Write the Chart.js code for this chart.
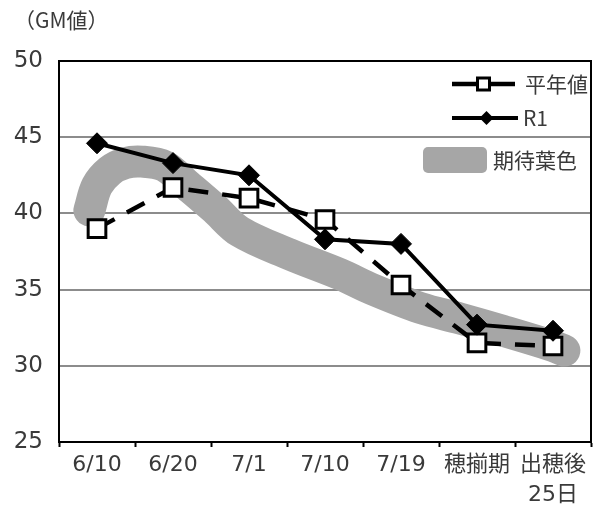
<!DOCTYPE html>
<html>
<head>
<meta charset="utf-8">
<script src="https://cdn.jsdelivr.net/npm/chart.js@4/dist/chart.umd.min.js"></script>
<style>
  html, body { margin: 0; padding: 0; background: #fff; }
  #wrap { width: 593px; height: 506px; }
</style>
</head>
<body>
<div id="wrap"><canvas id="gmChart" width="593" height="506"></canvas></div>
<script>
// GM値の推移（平年値・R1・期待葉色）
const categories = ["6/10", "6/20", "7/1", "7/10", "7/19", "穂揃期", ["出穂後", "25日"]];
const normalValues = [39.0, 41.7, 41.0, 39.6, 35.3, 31.5, 31.3];
const r1Values = [44.6, 43.3, 42.5, 38.3, 38.0, 32.7, 32.3];

// 期待葉色の帯（中心線）。x は項目番号（0 = 6/10）
const bandX = [-0.1, 0, 0.17, 0.37, 0.59, 0.89, 1.2, 1.55, 1.88, 2.54, 3.2, 3.63, 4.25, 4.78, 5.34, 6.0, 6.15];
const bandY = [40.2, 41.8, 42.8, 43.3, 43.4, 43.1, 41.8, 40.3, 38.8, 37.3, 36.0, 35.0, 33.8, 33.1, 32.3, 31.3, 31.0];

const yTicks = { min: 25, max: 50, step: 5 };

const numFont = '"DejaVu Sans", "Noto Sans CJK JP", sans-serif';
const jpFont = '"Noto Sans CJK JP", "DejaVu Sans", sans-serif';
const bandColor = "#a6a6a6";
const textColor = "#3a3a3a";

const bandPoints = bandX.map((x, i) => ({ x, y: bandY[i] }));

// 枠線・凡例・単位を描く
const decorPlugin = {
    id: "decor",
    afterDraw(chart) {
        const ctx = chart.ctx;
        const a = chart.chartArea;
        ctx.save();

        // plot frame
        ctx.strokeStyle = "#000";
        ctx.lineWidth = 2;
        ctx.strokeRect(a.left, a.top, a.right - a.left, a.bottom - a.top);

        // unit label
        ctx.fillStyle = textColor;
        ctx.font = "21px " + jpFont;
        ctx.textBaseline = "middle";
        ctx.textAlign = "left";
        ctx.fillText("（GM値）", 14, 20);

        // legend
        ctx.font = "21px " + jpFont;
        const lx0 = a.right - 139, lx1 = a.right - 76;
        const mx = (lx0 + lx1) / 2;

        // 平年値
        let y = a.top + 23;
        ctx.strokeStyle = "#000";
        ctx.lineWidth = 4.5;
        ctx.beginPath();
        ctx.moveTo(lx0, y); ctx.lineTo(mx - 7, y);
        ctx.moveTo(mx + 7, y); ctx.lineTo(lx1, y);
        ctx.stroke();
        ctx.lineWidth = 3;
        ctx.fillStyle = "#fff";
        ctx.fillRect(mx - 6, y - 6, 12, 12);
        ctx.strokeRect(mx - 6, y - 6, 12, 12);
        ctx.fillStyle = textColor;
        ctx.fillText("平年値", a.right - 66, y);

        // R1
        y = a.top + 57;
        ctx.lineWidth = 4;
        ctx.beginPath();
        ctx.moveTo(lx0, y); ctx.lineTo(lx1 + 3, y);
        ctx.stroke();
        ctx.fillStyle = "#000";
        ctx.beginPath();
        ctx.moveTo(mx + 3, y - 7); ctx.lineTo(mx + 10, y);
        ctx.lineTo(mx + 3, y + 7); ctx.lineTo(mx - 4, y);
        ctx.closePath();
        ctx.fill();
        ctx.fillStyle = textColor;
        ctx.fillText("R1", a.right - 68, y);

        // 期待葉色
        y = a.top + 99;
        ctx.fillStyle = bandColor;
        ctx.beginPath();
        ctx.roundRect(a.right - 168, y - 13, 64, 26, 5);
        ctx.fill();
        ctx.fillStyle = textColor;
        ctx.fillText("期待葉色", a.right - 98, y);

        ctx.restore();
    },
};

new Chart(document.getElementById("gmChart"), {
    type: "line",
    data: {
        labels: categories,
        datasets: [
            {
                label: "R1",
                data: r1Values,
                order: 0,
                borderColor: "#000",
                borderWidth: 4,
                pointStyle: "rectRot",
                pointRadius: 10.5,
                pointBackgroundColor: "#000",
                pointBorderColor: "#000",
                pointBorderWidth: 1,
                tension: 0,
            },
            {
                label: "平年値",
                data: normalValues,
                order: 1,
                borderColor: "#000",
                borderWidth: 4.5,
                borderDash: [20, 14],
                pointStyle: "rect",
                pointRadius: 12.5,
                pointBackgroundColor: "#fff",
                pointBorderColor: "#000",
                pointBorderWidth: 3,
                tension: 0,
            },
            {
                label: "期待葉色",
                data: bandPoints,
                xAxisID: "xb",
                order: 2,
                borderColor: bandColor,
                borderWidth: 32,
                borderCapStyle: "round",
                borderJoinStyle: "round",
                pointRadius: 0,
                tension: 0.35,
                clip: false,
            },
        ],
    },
    options: {
        responsive: false,
        animation: false,
        layout: { autoPadding: false, padding: { top: 61, right: 2, bottom: 0, left: 0 } },
        plugins: {
            legend: { display: false },
            tooltip: { enabled: false },
        },
        scales: {
            x: {
                type: "category",
                offset: true,
                grid: {
                    offset: true,
                    drawOnChartArea: false,
                    drawTicks: true,
                    tickLength: 5,
                    tickWidth: 2,
                    tickColor: "#000",
                },
                border: { color: "#000", width: 2 },
                ticks: {
                    color: textColor,
                    padding: 3,
                    maxRotation: 0,
                    autoSkip: false,
                    font: { family: numFont, size: 22, lineHeight: 1.36 },
                },
                afterFit(scale) {
                    scale.height = 64;
                    scale.paddingLeft = 0;
                    scale.paddingRight = 0;
                },
            },
            xb: {
                type: "linear",
                display: false,
                min: -0.5,
                max: categories.length - 0.5,
            },
            y: {
                min: yTicks.min,
                max: yTicks.max,
                ticks: {
                    stepSize: yTicks.step,
                    color: textColor,
                    padding: 16,
                    font: { family: numFont, size: 23, lineHeight: 1.2 },
                },
                grid: { color: "#8c8c8c", lineWidth: 2, drawTicks: false },
                border: { color: "#000", width: 2 },
                afterFit(scale) { scale.width = 59; },
            },
        },
    },
    plugins: [decorPlugin],
});
</script>
</body>
</html>
